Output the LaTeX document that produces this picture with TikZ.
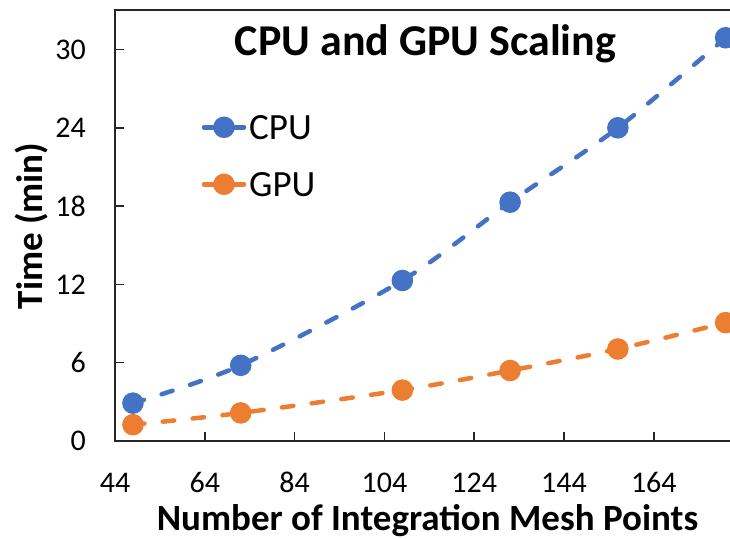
\documentclass[tikz,border=0pt]{standalone}
\usepackage{fontspec}
\setmainfont{Carlito}
\usetikzlibrary{positioning}
\definecolor{cpublue}{HTML}{4472C4}
\definecolor{gpuorange}{HTML}{ED7D31}
\tikzset{cpu dot/.style={circle,fill=cpublue,draw=none,minimum size=21.6pt,inner sep=0pt},
         gpu dot/.style={circle,fill=gpuorange,draw=none,minimum size=21.6pt,inner sep=0pt},
         cpu line/.style={draw=cpublue,line width=4.5pt,line cap=round,dash pattern=on 11.5pt off 18.5pt},
         gpu line/.style={draw=gpuorange,line width=4.5pt,line cap=round,dash pattern=on 11.5pt off 18.5pt},
         axis line/.style={draw=black!85,line width=1.6pt},
         tick label/.style={inner sep=0pt,font=\fontsize{30}{36}\selectfont},
         axis label/.style={inner sep=0pt,font=\fontsize{37}{44}\selectfont\bfseries},
         legend text/.style={inner sep=0pt,anchor=west,font=\fontsize{37}{44}\selectfont}
}

\begin{document}
\begin{tikzpicture}
\path[use as bounding box,clip] (0,0) rectangle (730pt,538pt);

% plot area
\draw[axis line] (115pt,97pt) rectangle (770pt,528pt);

\begin{scope}[shift={(-82.56pt,97pt)},x=4.49pt,y=13.05pt]
% ticks and tick labels
\foreach \v in {64,84,...,164}
    \draw[axis line] (\v,0) -- ++(0,9pt);
\foreach \t in {6,12,...,30}
    \draw[axis line] (44,\t) -- ++(9pt,0);
\foreach \v in {44,64,...,164}
    \node[tick label,anchor=base] at ([yshift=-51pt]\v,0) {\v};
\foreach \t in {0,6,...,30}
    \node[tick label,anchor=east] at ([xshift=-29pt]44,\t) {\t};

% data
\foreach \x/\y [count=\i] in {48/2.9,72/5.8,108/12.3,132/18.3,156/24.0,180/30.9}
    \coordinate (c\i) at (\x,\y);
\foreach \x/\y [count=\i] in {48/1.25,72/2.15,108/3.9,132/5.4,156/7.05,180/9.07}
    \coordinate (g\i) at (\x,\y);

\draw[cpu line] plot[smooth] coordinates {(c1) (c2) (c3) (c4) (c5) (c6)};
\draw[gpu line] plot[smooth] coordinates {(g1) (g2) (g3) (g4) (g5) (g6)};
\foreach \i in {1,...,6}{
    \node[cpu dot] (cm\i) at (c\i) {};
    \node[gpu dot] (gm\i) at (g\i) {};
}
\end{scope}

% legend
\coordinate (cpukey) at (224pt,410.7pt);
\coordinate (gpukey) at (224pt,353.7pt);
\draw[draw=cpublue,line width=4.5pt,line cap=round] ([xshift=-20pt]cpukey) -- ([xshift=20pt]cpukey);
\draw[draw=gpuorange,line width=4.5pt,line cap=round] ([xshift=-20pt]gpukey) -- ([xshift=20pt]gpukey);
\node[cpu dot] (cpumark) at (cpukey) {};
\node[gpu dot] (gpumark) at (gpukey) {};
\node[legend text,right=14pt of cpumark] (cputext) {CPU};
\node[legend text,right=14pt of gpumark] (gputext) {GPU};

% titles
\node[inner sep=0pt,anchor=base,font=\fontsize{44}{52}\selectfont\bfseries] (title) at (425.5pt,482pt) {CPU and GPU Scaling};
\node[axis label,anchor=base] (xlabel) at (427.5pt,8pt) {Number of Integration Mesh Points};
\node[axis label,anchor=base,rotate=90] (ylabel) at (42pt,312pt) {Time (min)};
\end{tikzpicture}
\end{document}
